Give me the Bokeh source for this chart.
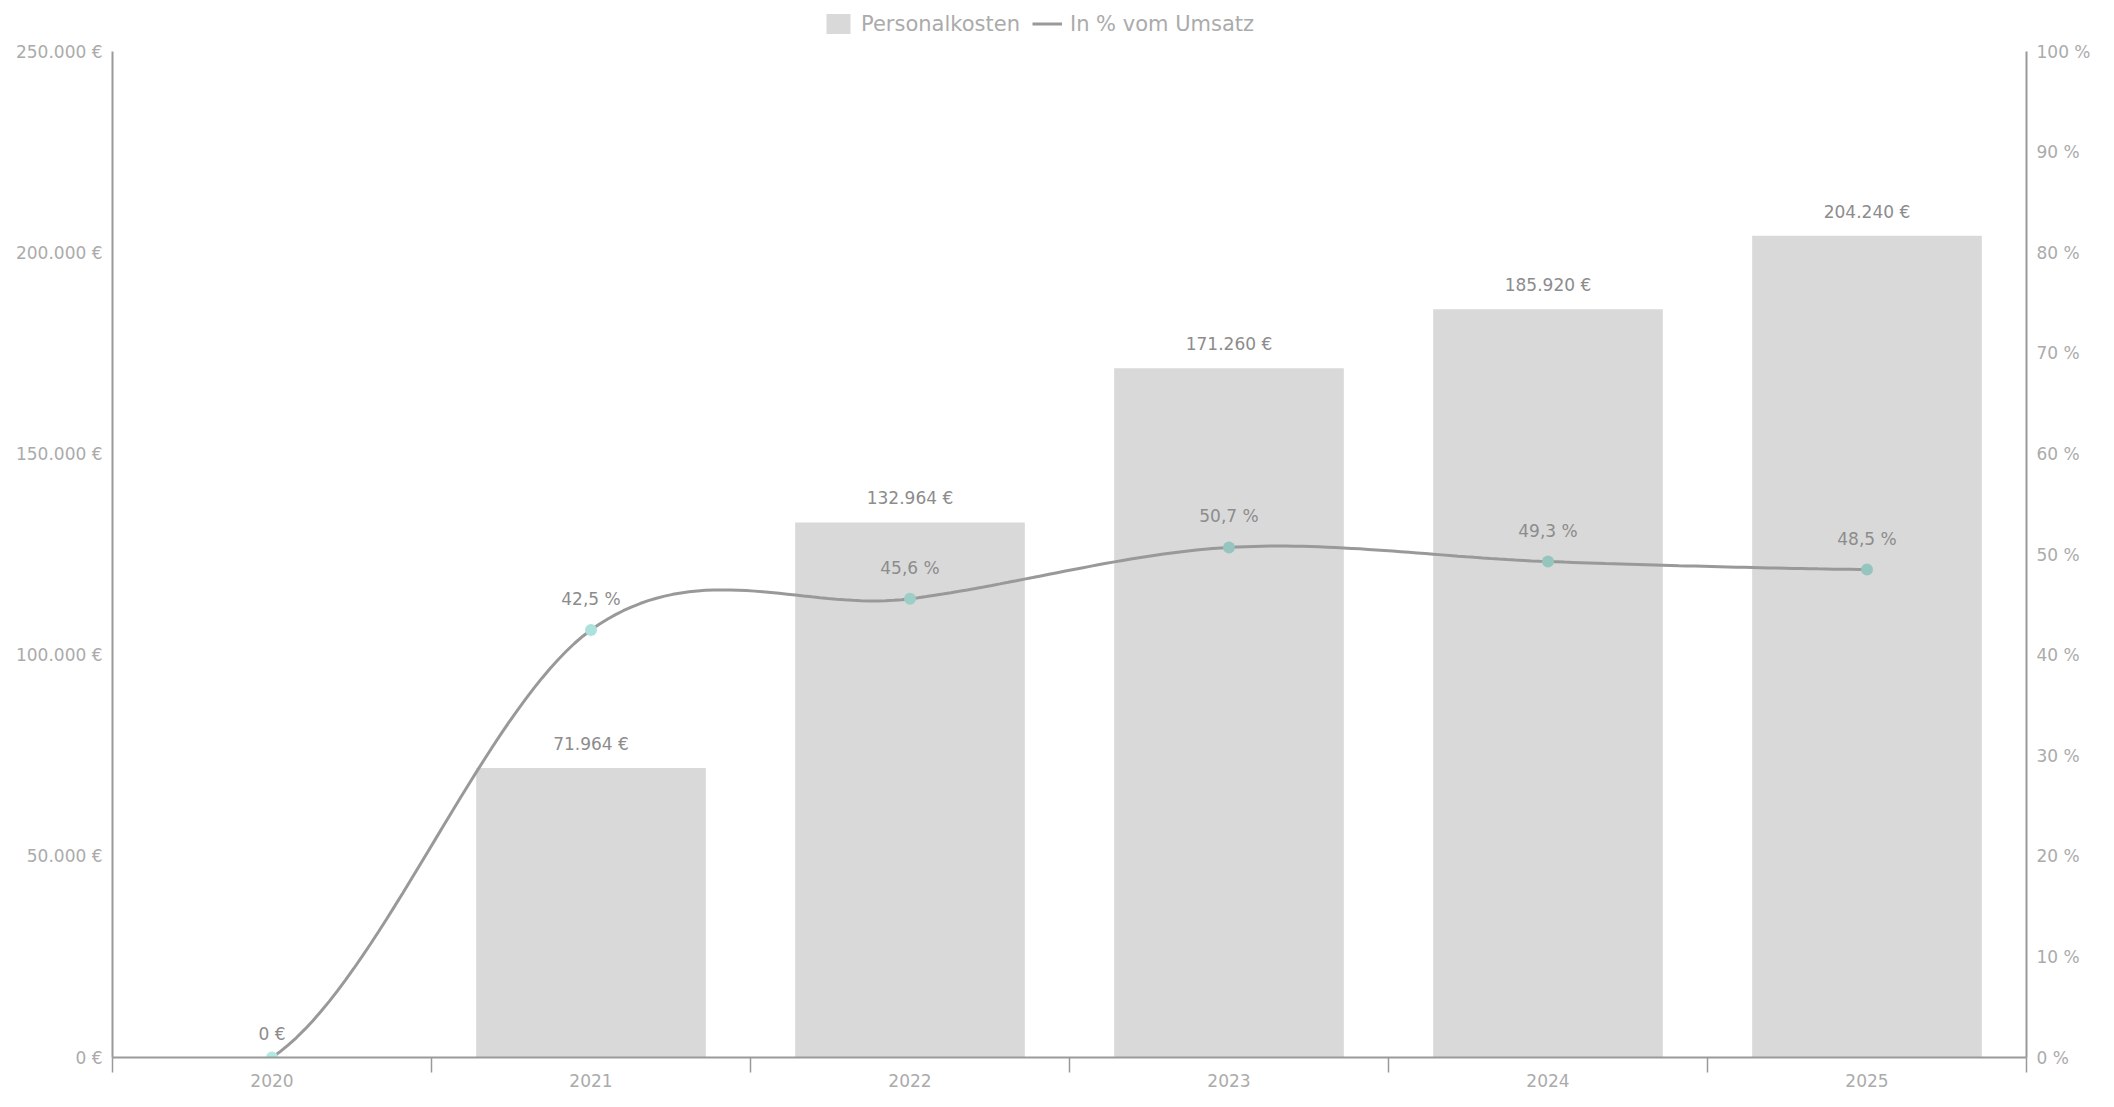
from bokeh.plotting import figure
from bokeh.layouts import column
from bokeh.models import Range1d, LinearAxis, FixedTicker, Legend, LegendItem
from bokeh.core.properties import value
from bokeh.embed import file_html
from bokeh.resources import INLINE
import numpy as np

# ---- data ----
years = ["2020", "2021", "2022", "2023", "2024", "2025"]
personalkosten = [0, 71964, 132964, 171260, 185920, 204240]
pct_umsatz = [0.0, 42.5, 45.6, 50.7, 49.3, 48.5]
left_ticks = [0, 50000, 100000, 150000, 200000, 250000]
right_ticks = [0, 10, 20, 30, 40, 50, 60, 70, 80, 90, 100]
series_names = ["Personalkosten", "In % vom Umsatz"]
marker_colors = ["#b4e8e2", "#ade2dc", "#9dcdc7", "#96c5bf", "#96c5bf", "#96c5bf"]


def eur(v):
    return f"{v:,}".replace(",", ".") + " €"


def pct(v):
    return f"{v:.1f}".replace(".", ",") + " %"


left_tick_labels = {t: eur(t) for t in left_ticks}
right_tick_labels = {t: f"{t} %" for t in right_ticks}

FONT = "DejaVu Sans"
AXIS_COL = "#9a9a9a"
TICK_TXT = "#ababab"
LBL_TXT = "#8c8c8c"
BAR_COL = "#d9d9d9"
LINE_COL = "#999999"

xs = list(range(len(years)))

# ---- legend strip (proxy renderers placed outside the visible range) ----
lg = figure(width=2098, height=36, x_range=Range1d(0, 1), y_range=Range1d(0, 1),
            output_backend="svg", toolbar_location=None,
            x_axis_location=None, y_axis_location=None,
            min_border_left=0, min_border_right=0, min_border_top=0, min_border_bottom=0)
lg.outline_line_color = None
lg.xgrid.visible = False
lg.ygrid.visible = False
lbar = lg.vbar(x=[-10], top=[-10], width=0.5, fill_color=BAR_COL, line_color=None)
lline = lg.line(x=[-10, -9], y=[-10, -10], line_color=LINE_COL, line_width=3)
legend = Legend(items=[LegendItem(label=series_names[0], renderers=[lbar]),
                       LegendItem(label=series_names[1], renderers=[lline])],
                orientation="horizontal", location=(711, 0),
                label_text_font=FONT, label_text_font_size="21px", label_text_color=TICK_TXT,
                glyph_width=30, glyph_height=25, label_height=25, label_standoff=8, spacing=12,
                padding=2, margin=0, border_line_color=None, background_fill_alpha=0)
lg.add_layout(legend, "center")

# ---- main chart ----
p = figure(width=2098, height=1055,
           x_range=Range1d(-0.5, 5.5), y_range=Range1d(0, 250000),
           output_backend="svg", toolbar_location=None,
           min_border_left=112, min_border_right=72, min_border_top=15, min_border_bottom=34)
p.outline_line_color = None
p.xgrid.visible = False
p.ygrid.visible = False
p.extra_y_ranges = {"pct": Range1d(0, 100)}

p.vbar(x=xs, top=personalkosten, width=0.72, fill_color=BAR_COL, line_color=None)

# smooth line (Catmull-Rom through data points)
px = np.array(xs, dtype=float)
py = np.array(pct_umsatz, dtype=float)
cx, cy = [], []
n = len(px)
for i in range(n - 1):
    p0 = py[i - 1] if i > 0 else py[i]
    p1, p2 = py[i], py[i + 1]
    p3 = py[i + 2] if i + 2 < n else py[i + 1]
    m1 = (p2 - p0) / 2
    m2 = (p3 - p1) / 2
    t = np.linspace(0, 1, 40)
    h00 = 2 * t**3 - 3 * t**2 + 1
    h10 = t**3 - 2 * t**2 + t
    h01 = -2 * t**3 + 3 * t**2
    h11 = t**3 - t**2
    cy.extend(h00 * p1 + h10 * m1 + h01 * p2 + h11 * m2)
    cx.extend(px[i] + t)
p.line(cx, cy, line_color=LINE_COL, line_width=3, y_range_name="pct")

p.scatter(x=xs, y=pct_umsatz, size=12, fill_color=marker_colors, line_color=None, y_range_name="pct")

# labels
p.text(x=xs, y=personalkosten, text=[eur(v) for v in personalkosten],
       text_align="center", text_baseline="middle", y_offset=-24,
       text_font=value(FONT), text_font_size="17px", text_color=LBL_TXT)
lx = [x for x, v in zip(xs, pct_umsatz) if v > 0]
ly = [v for v in pct_umsatz if v > 0]
p.text(x=lx, y=ly, text=[pct(v) for v in ly], y_range_name="pct",
       text_align="center", text_baseline="middle", y_offset=-31,
       text_font=value(FONT), text_font_size="17px", text_color=LBL_TXT)

# axes
xa = p.xaxis[0]
xa.ticker = FixedTicker(ticks=xs, minor_ticks=[x - 0.5 for x in xs] + [5.5])
xa.major_label_overrides = {i: y for i, y in enumerate(years)}
xa.major_tick_out = 0
xa.major_tick_in = 0
xa.minor_tick_out = 15
xa.minor_tick_in = 0
xa.minor_tick_line_color = AXIS_COL
xa.minor_tick_line_width = 1.5
xa.axis_line_color = AXIS_COL
xa.axis_line_width = 2
xa.major_label_standoff = 1
xa.major_label_text_font = FONT
xa.major_label_text_font_size = "17px"
xa.major_label_text_color = TICK_TXT

ya = p.yaxis[0]
ya.ticker = FixedTicker(ticks=left_ticks)
ya.major_label_overrides = left_tick_labels
ya.major_tick_out = 0
ya.major_tick_in = 0
ya.minor_tick_out = 0
ya.minor_tick_in = 0
ya.axis_line_color = AXIS_COL
ya.axis_line_width = 2
ya.major_label_standoff = 10
ya.major_label_text_font = FONT
ya.major_label_text_font_size = "17px"
ya.major_label_text_color = TICK_TXT

ra = LinearAxis(y_range_name="pct", ticker=FixedTicker(ticks=right_ticks))
ra.major_label_overrides = right_tick_labels
ra.major_tick_out = 0
ra.major_tick_in = 0
ra.minor_tick_out = 0
ra.minor_tick_in = 0
ra.axis_line_color = AXIS_COL
ra.axis_line_width = 2
ra.major_label_standoff = 10
ra.major_label_text_font = FONT
ra.major_label_text_font_size = "17px"
ra.major_label_text_color = TICK_TXT
p.add_layout(ra, "right")

layout = column(lg, p, spacing=0)
open("out.html", "w").write(file_html(layout, INLINE))
